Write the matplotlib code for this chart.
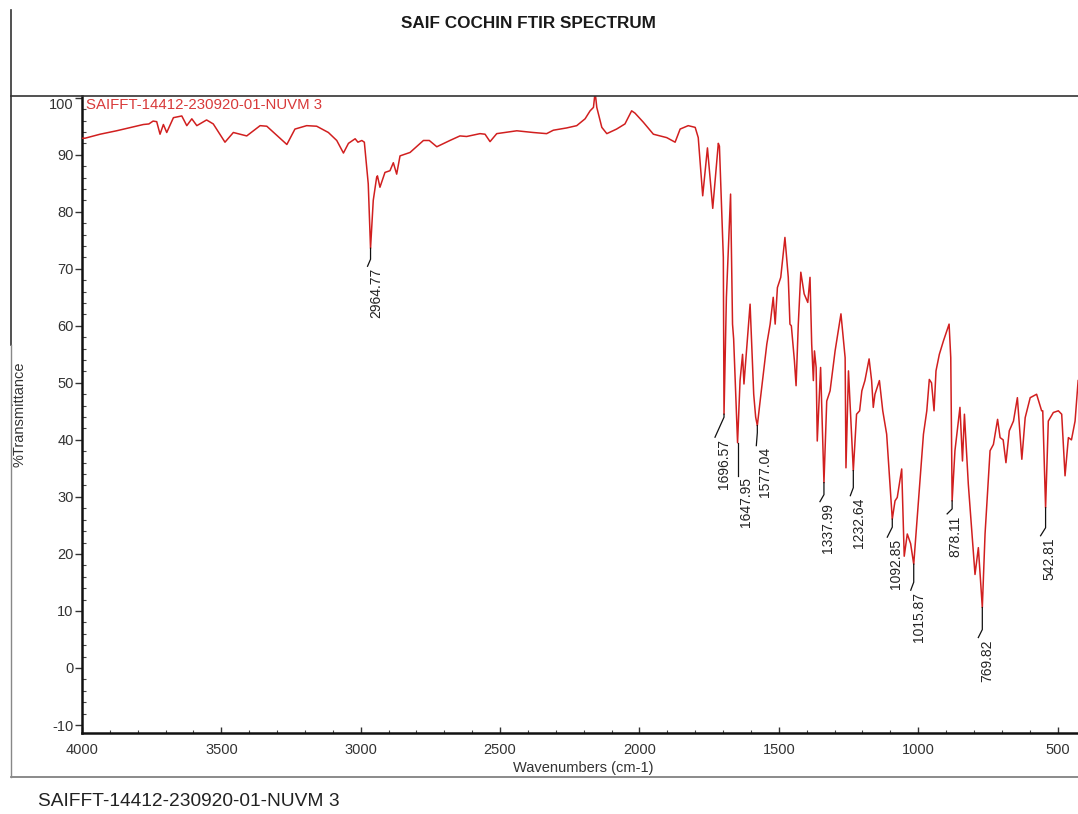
import matplotlib
matplotlib.use("Agg")
import matplotlib.pyplot as plt
from matplotlib.lines import Line2D
from matplotlib.ticker import MultipleLocator
import numpy as np

plt.rcParams["font.family"] = ["Liberation Sans", "DejaVu Sans"]
plt.rcParams["axes.unicode_minus"] = False

# ---- spectrum (wavenumber cm-1, %T) ----
wavenumber = [
    4000, 3989, 3935, 3876, 3816, 3780, 3760, 3745, 3732, 3720, 3708, 3696, 3672, 3642,
    3624, 3606, 3588, 3553, 3529, 3487, 3457, 3409, 3361, 3337, 3319, 3265,
    3236, 3194, 3158, 3116, 3086, 3062, 3044, 3020, 3010, 2996, 2987, 2973,
    2964.77, 2955, 2943, 2940, 2931, 2913, 2895, 2883, 2871, 2859, 2823, 2775,
    2754, 2727, 2680, 2644, 2620, 2572, 2554, 2536, 2512, 2440, 2381, 2333,
    2309, 2261, 2225, 2195, 2177, 2165, 2159, 2153, 2135, 2117, 2082, 2052,
    2028, 2016, 1986, 1950, 1926, 1902, 1872, 1854, 1825, 1800, 1789, 1773,
    1756, 1737, 1717, 1713, 1699, 1696.57, 1688, 1673, 1666, 1662, 1647.95,
    1639, 1630, 1625, 1603, 1590, 1583, 1577.04, 1567, 1543, 1531, 1520, 1513,
    1505, 1493, 1478, 1466, 1460, 1455, 1444, 1438, 1430, 1421, 1409, 1396,
    1388, 1382, 1376, 1372, 1366, 1362, 1350, 1337.99, 1328, 1316, 1298, 1277,
    1262, 1259, 1250, 1232.64, 1221, 1210, 1202, 1191, 1176, 1167, 1161, 1155,
    1139, 1127, 1113, 1092.85, 1083, 1075, 1059, 1050, 1039, 1027, 1015.87,
    999, 981, 969, 960, 952, 943, 936, 924, 909, 889, 883, 878.11, 868, 850,
    841, 834, 820, 796, 784, 769.82, 760, 742, 730, 715, 706, 695, 685, 673,
    658, 644, 628, 616, 598, 575, 557, 553, 542.81, 533, 515, 497, 485, 473,
    461, 450, 437, 426,
]
transmittance = [
    92.9, 92.9, 93.6, 94.2, 94.9, 95.3, 95.4, 95.9, 95.8, 93.6, 95.3, 93.9, 96.5, 96.8,
    95.1, 96.3, 95.1, 96.1, 95.4, 92.2, 93.9, 93.3, 95.1, 95.0, 94.2, 91.8,
    94.5, 95.1, 95.0, 93.9, 92.5, 90.3, 92.0, 92.8, 92.2, 92.5, 92.2, 84.9,
    73.6, 82.0, 86.0, 86.3, 84.3, 86.9, 87.2, 88.6, 86.6, 89.8, 90.4, 92.5,
    92.5, 91.4, 92.5, 93.3, 93.2, 93.7, 93.6, 92.3, 93.7, 94.2, 93.9, 93.7,
    94.3, 94.7, 95.1, 96.3, 97.7, 98.3, 101.0, 98.3, 94.8, 93.7, 94.5, 95.4,
    97.7, 97.3, 95.7, 93.6, 93.3, 93.0, 92.2, 94.5, 95.1, 94.8, 93.0, 82.8,
    91.2, 80.6, 92.0, 91.5, 72.0, 44.5, 65.0, 83.1, 60.3, 57.7, 39.5,
    50.4, 55.0, 49.8, 63.8, 48.0, 44.0, 42.5, 46.8, 56.8, 60.3, 65.0, 60.3,
    66.7, 68.5, 75.5, 68.5, 60.3, 60.0, 53.9, 49.5, 60.3, 69.4, 65.6, 64.1,
    68.5, 56.8, 50.4, 55.6, 52.7, 39.8, 52.7, 32.5, 46.8, 48.6, 55.6, 62.1,
    54.4, 35.1, 52.1, 34.6, 44.5, 45.1, 48.6, 50.4, 54.2, 50.4, 45.7, 48.0,
    50.4, 45.1, 41.0, 26.1, 29.3, 29.9, 34.9, 19.6, 23.5, 21.8, 18.2,
    29.3, 41.0, 45.1, 50.6, 50.0, 45.1, 52.1, 55.0, 57.4, 60.3, 54.4, 29.3, 38.1, 45.7,
    36.3, 44.5, 32.2, 16.4, 21.1, 10.6, 23.5, 38.1, 39.2, 43.6, 40.4, 40.0, 36.0, 41.6,
    43.3, 47.4, 36.6, 43.9, 47.4, 48.0, 45.1, 45.1, 28.1, 43.3, 44.8, 45.1, 44.5, 33.7,
    40.4, 40.0, 43.3, 50.4,
]

# ---- labelled peaks ----
peak_wavenumbers = [2964.77, 1696.57, 1647.95, 1577.04, 1337.99, 1232.64,
                    1092.85, 1015.87, 878.11, 769.82, 542.81]
peak_labels = ["2964.77", "1696.57", "1647.95", "1577.04", "1337.99", "1232.64",
               "1092.85", "1015.87", "878.11", "769.82", "542.81"]

# leader shapes in pixels: (vertical drop, slant dx, slant dy)
leader_shapes = [(11, -3, 7), (3, -9, 20), (33, 0, 0), (7, -1, 13), (12, -4, 7),
                 (17, -3, 8), (8, -5, 10), (18, -3, 8), (8, -5, 5), (22, -4, 8),
                 (20, -5, 8)]

sample_name = "SAIFFT-14412-230920-01-NUVM 3"

W, H = 1078, 814
fig = plt.figure(figsize=(W / 100, H / 100), dpi=100)
fig.patch.set_facecolor("white")

ax_left, ax_right, ax_top, ax_bottom = 82, 1078, 96, 733
ax = fig.add_axes([ax_left / W, 1 - ax_bottom / H,
                   (ax_right - ax_left) / W, (ax_bottom - ax_top) / H])

ax.plot(wavenumber, transmittance, color="#d11f1f", lw=1.1, zorder=3)

ax.set_xlim(4000, 426.5)
ax.set_ylim(-11.4, 100.3)

for s in ["top", "right"]:
    ax.spines[s].set_visible(False)
for s in ["left", "bottom"]:
    ax.spines[s].set_linewidth(1.8)
    ax.spines[s].set_color("#111111")

ax.set_yticks(np.arange(-10, 101, 10))
ax.set_xticks([4000, 3500, 3000, 2500, 2000, 1500, 1000, 500])
ax.xaxis.set_minor_locator(MultipleLocator(100))
ax.yaxis.set_minor_locator(MultipleLocator(2))
ax.tick_params(axis="y", which="major", direction="out", length=5, width=1,
               pad=1, labelsize=10.5, labelcolor="#333333", color="#333333")
ax.tick_params(axis="y", which="minor", direction="in", length=3, width=0.8,
               color="#444444")
ax.tick_params(axis="x", which="major", direction="in", length=4, width=1,
               pad=7, labelsize=10.5, labelcolor="#333333", color="#333333")
ax.tick_params(axis="x", which="minor", direction="in", length=2.5, width=0.8,
               color="#444444")
ax.yaxis.get_ticklabels()[-1].set_va("top")

ax.set_ylabel("%Transmittance", fontsize=10.5, color="#333333")
ax.yaxis.set_label_coords(-(ax_left - 27) / (ax_right - ax_left), 0.5)
ax.set_xlabel("Wavenumbers (cm-1)", fontsize=10.5, color="#333333")
ax.xaxis.set_label_coords((583 - ax_left) / (ax_right - ax_left),
                          -(761 - ax_bottom) / (ax_bottom - ax_top))

ax.text(0.004, 0.997, sample_name, transform=ax.transAxes, ha="left", va="top",
        fontsize=10.8, color="#d83a3a", zorder=4)

# peak annotations with kinked leaders
inv = ax.transData.inverted()
wn_arr = np.array(wavenumber)
t_arr = np.array(transmittance)
for wn, lab, (v, dx, dy) in zip(peak_wavenumbers, peak_labels, leader_shapes):
    t = t_arr[np.argmin(np.abs(wn_arr - wn))]
    px, py = ax.transData.transform((wn, t))
    pts_disp = [(px, py), (px, py - v), (px + dx, py - v - dy)]
    pts = inv.transform(pts_disp)
    ax.plot(pts[:, 0], pts[:, 1], color="#111111", lw=0.9, zorder=4,
            clip_on=False)
    tx, ty = inv.transform((px + dx + 1.5, py - v - dy - 1.5))
    ax.text(tx, ty, lab, rotation=90, ha="left", va="top", fontsize=10,
            color="#222222", zorder=4)

# page frame
def hline(y, x0, x1, color, lw):
    fig.add_artist(Line2D([x0 / W, x1 / W], [1 - y / H, 1 - y / H],
                          transform=fig.transFigure, color=color, lw=lw))

def vline(x, y0, y1, color, lw):
    fig.add_artist(Line2D([x / W, x / W], [1 - y0 / H, 1 - y1 / H],
                          transform=fig.transFigure, color=color, lw=lw))

hline(96, 11, 1078, "#333333", 1.2)
hline(777, 11, 1078, "#777777", 1.2)
vline(11, 10, 345, "#333333", 1.2)
vline(11, 345, 777, "#888888", 1.0)

fig.text(528 / W, 1 - 23 / H, "SAIF COCHIN FTIR SPECTRUM", ha="center",
         va="center", fontsize=12.3, fontweight="bold", color="#1a1a1a")
fig.text(38 / W, 1 - 801 / H, sample_name, ha="left", va="center",
         fontsize=13.8, color="#222222")

fig.savefig("out.png", dpi=100)
